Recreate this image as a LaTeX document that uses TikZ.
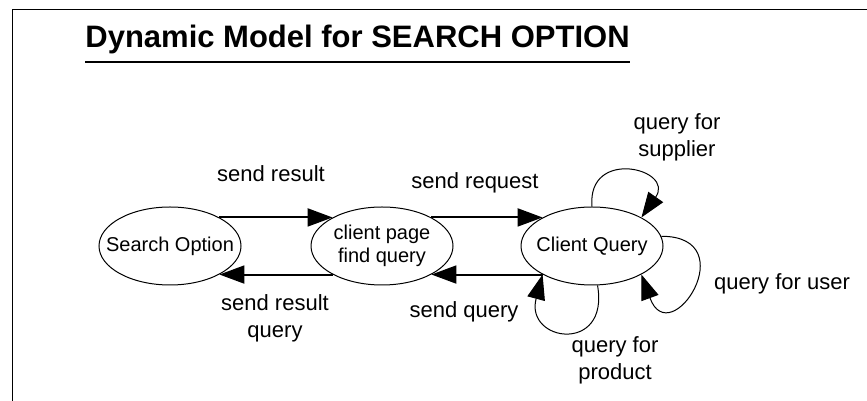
\documentclass[tikz,border=0pt]{standalone}
\usepackage{fontspec}
\setmainfont{Liberation Sans}
\usepackage{tikz}
\usetikzlibrary{arrows.meta}
\usetikzlibrary{shapes.geometric}
\tikzset{statetext/.style = {inner sep = 0, align = center, font = \fontsize{10}{11.5}\selectfont}}
\tikzset{state/.style = {draw, ellipse, line width = 0.5pt, minimum width = 71pt, minimum height = 39pt, label = {[statetext]center:#1}}}
\tikzset{arr/.style = {-{Triangle[length = 12.5pt, width = 9pt]}, line width = 1pt}}
\tikzset{loopy/.style = {-{Triangle[length = 12.5pt, width = 9pt]}, line width = 0.5pt}}
\tikzset{lbl/.style = {inner sep = 0, align = center, font = \fontsize{11}{13.5}\selectfont}}

\begin{document}
\begin{tikzpicture}[x = 0.5pt, y = 0.5pt]
    \useasboundingbox (0, 0) rectangle (867, 401);
    \draw [line width = 0.5pt] (12, 0) -- (12, 391) -- (867, 391);

    \node [anchor = base west, inner sep = 0, font = \bfseries\fontsize{15.5}{18}\selectfont] (title) at (85, 353) {Dynamic Model for SEARCH OPTION};
    \draw [line width = 1pt] ([yshift = -7pt] title.base west) -- ([yshift = -7pt] title.base east);

    \node [state = {Search Option}] (so) at (170, 155) {};
    \node [state = {client page\\find query}] (cp) at (382, 155) {};
    \node [state = {Client Query}] (cq) at (592, 155) {};

    \draw [arr] (so.30) -- (cp.150);
    \draw [arr] (cp.-150) -- (so.-30);
    \draw [arr] (cp.30) -- (cq.150);
    \draw [arr] (cq.-150) -- (cp.-30);

    \draw [loopy] (cq.90) to [out = 95, in = 55, looseness = 3] (cq.30);
    \draw [loopy] (cq.8) to [out = 0, in = -70, looseness = 5] (cq.-30);
    \draw [loopy] (cq.-82) to [out = -80, in = -105, looseness = 3.2] (cq.-150);

    \node [lbl, anchor = base] (sres) at (271, 219) {send result};
    \node [lbl, anchor = base] (sreq) at (475, 212) {send request};
    \node [lbl] (sresq) at (275, 83) {send result\\query};
    \node [lbl, anchor = base] (squ) at (464, 83) {send query};
    \node [lbl] (qsup) at (677, 264) {query for\\supplier};
    \node [lbl, anchor = base] (quser) at (782, 111) {query for user};
    \node [lbl] (qprod) at (615, 41) {query for\\product};
\end{tikzpicture}
\end{document}
